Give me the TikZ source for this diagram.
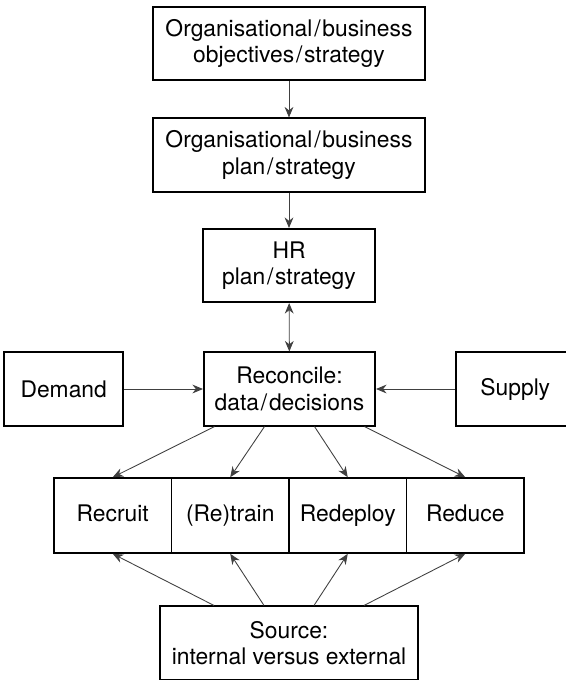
\documentclass[tikz,border=0pt]{standalone}
\usepackage{fontspec}
\setmainfont{TeX Gyre Heros}
\usetikzlibrary{
    arrows.meta,
    positioning,
    calc,
}
\newcommand{\slsep}{\kern1pt/\kern1pt}

\begin{document}
\begin{tikzpicture}[
    x=0.02cm, y=-0.02cm,
    node distance= 1.58cm and 1.58cm,
    box/.style={draw, line width=0.9pt, align=center, inner sep=0pt,
                minimum height=1.47cm, font=\fontsize{13}{15}\selectfont},
    wide/.style={box, minimum width=5.44cm},
    mid/.style={box, minimum width=3.43cm},
    side/.style={box, minimum width=2.38cm},
    act/.style={box, minimum width=2.35cm, minimum height=1.5cm,
                text height=1.75ex, text depth=0.5ex},
    link/.style={-{Stealth[length=6pt,width=5pt]}, draw=black!75, line width=0.5pt},
]
\useasboundingbox (0,0) rectangle (565,680);

\node[wide] at (289,43.5) (objectives) {Organisational\slsep business\\objectives\slsep strategy};
\node[wide] at (289,155) (bizplan) {Organisational\slsep business\\plan\slsep strategy};
\node[mid] at (289,265.5) (hrplan) {HR\\plan\slsep strategy};
\node[mid] at (289.5,389) (reconcile) {Reconcile:\\data\slsep decisions};

\node[side] (demand) [left=of reconcile] {Demand};
\node[side] (supply) [right=of reconcile] {Supply};

\node[act] at (112.75,515.5) (recruit) {Recruit};
\node[act] at (230.25,515.5) (retrain) {(Re)train};
\node[act] at (347.75,515.5) (redeploy) {Redeploy};
\node[act] at (465.25,515.5) (reduce) {Reduce};

\node[box, minimum width=5.16cm] at (289,643) (source) {Source:\\internal versus external};

\draw[link] (objectives) -- (bizplan);
\draw[link] (bizplan) -- (hrplan);
\draw[link, {Stealth[length=6pt,width=5pt]}-{Stealth[length=6pt,width=5pt]}] (hrplan) -- (reconcile);
\draw[link] (demand) -- (reconcile);
\draw[link] (supply) -- (reconcile);

\draw[link] ([xshift=-1.5cm]reconcile.south) -- (recruit.north);
\draw[link] ([xshift=-0.5cm]reconcile.south) -- (retrain.north);
\draw[link] ([xshift=0.5cm]reconcile.south) -- (redeploy.north);
\draw[link] ([xshift=1.5cm]reconcile.south) -- (reduce.north);

\draw[link] ([xshift=-1.5cm]source.north) -- (recruit.south);
\draw[link] ([xshift=-0.5cm]source.north) -- (retrain.south);
\draw[link] ([xshift=0.5cm]source.north) -- (redeploy.south);
\draw[link] ([xshift=1.5cm]source.north) -- (reduce.south);

\end{tikzpicture}
\end{document}
